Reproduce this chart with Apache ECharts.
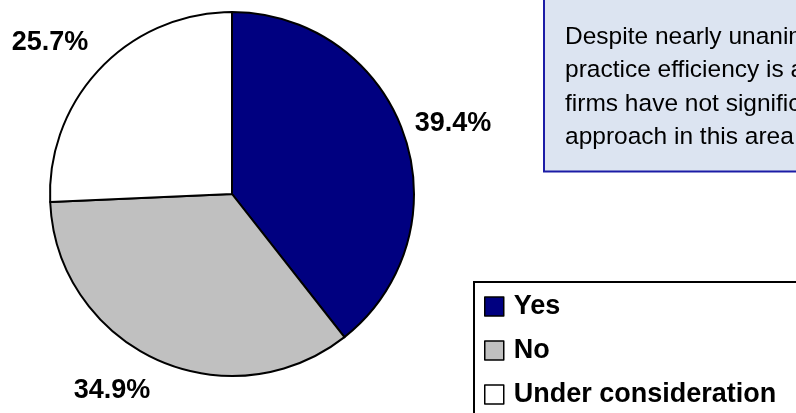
<!DOCTYPE html>
<html>
<head>
<meta charset="utf-8">
<script src="https://cdn.jsdelivr.net/npm/echarts@6/dist/echarts.min.js"></script>
<style>
  html, body { margin: 0; padding: 0; background: #ffffff; }
  #chart { width: 796px; height: 413px; }
</style>
</head>
<body>
<div id="chart"></div>
<script>
// Survey answers and their shares (percent)
const categories = ['Yes', 'No', 'Under consideration'];
const shares = [39.4, 34.9, 25.7];
const sliceColors = ['#000080', '#c0c0c0', '#ffffff'];

// Commentary box lines (the box runs off the right edge)
const noteLines = [
  'Despite nearly unanimous agreement that',
  'practice efficiency is a top priority, most',
  'firms have not significantly changed their',
  'approach in this area.'
];

// Where each percentage label sits
const labelSpots = [[453, 124], [112, 391], [50, 43]];

const FONT = '"Liberation Sans", Arial, Helvetica, sans-serif';

const chart = echarts.init(document.getElementById('chart'), null, { renderer: 'canvas' });

chart.setOption({
  backgroundColor: '#ffffff',
  animation: false,
  graphic: [
    {
      type: 'rect',
      shape: { x: 544, y: -10, width: 300, height: 181.5 },
      style: { fill: '#dce4f1', stroke: '#1c1ca6', lineWidth: 2 },
      z: 1
    },
    {
      type: 'text',
      x: 565,
      y: 20,
      style: {
        text: noteLines.join('\n'),
        font: '24.5px ' + FONT,
        fill: '#000000',
        lineHeight: 33.5,
        textAlign: 'left',
        textVerticalAlign: 'top'
      },
      z: 2
    },
    {
      type: 'rect',
      shape: { x: 474, y: 282, width: 400, height: 200 },
      style: { fill: '#ffffff', stroke: '#000000', lineWidth: 2 },
      z: 1
    }
  ],
  legend: {
    orient: 'vertical',
    left: 484,
    top: 293,
    icon: 'rect',
    itemWidth: 19,
    itemHeight: 19,
    itemGap: 17,
    padding: 0,
    selectedMode: false,
    data: categories,
    itemStyle: { borderColor: '#000000', borderWidth: 1.5 },
    textStyle: {
      fontFamily: FONT,
      fontSize: 27,
      fontWeight: 'bold',
      color: '#000000',
      padding: [0, 0, 0, 5]
    },
    z: 5
  },
  series: [
    {
      type: 'pie',
      center: [232, 194],
      radius: 182,
      startAngle: 90,
      clockwise: true,
      avoidLabelOverlap: false,
      data: categories.map((name, i) => ({
        name: name,
        value: shares[i],
        itemStyle: { color: sliceColors[i] }
      })),
      itemStyle: { borderColor: '#000000', borderWidth: 2 },
      emphasis: { disabled: true },
      label: {
        show: true,
        position: 'outside',
        formatter: (p) => p.value.toFixed(1) + '%',
        fontFamily: FONT,
        fontSize: 27,
        fontWeight: 'bold',
        color: '#000000'
      },
      labelLine: { show: false },
      labelLayout: (params) => ({
        x: labelSpots[params.dataIndex][0],
        y: labelSpots[params.dataIndex][1],
        align: 'center',
        verticalAlign: 'middle'
      })
    }
  ]
});
</script>
</body>
</html>
